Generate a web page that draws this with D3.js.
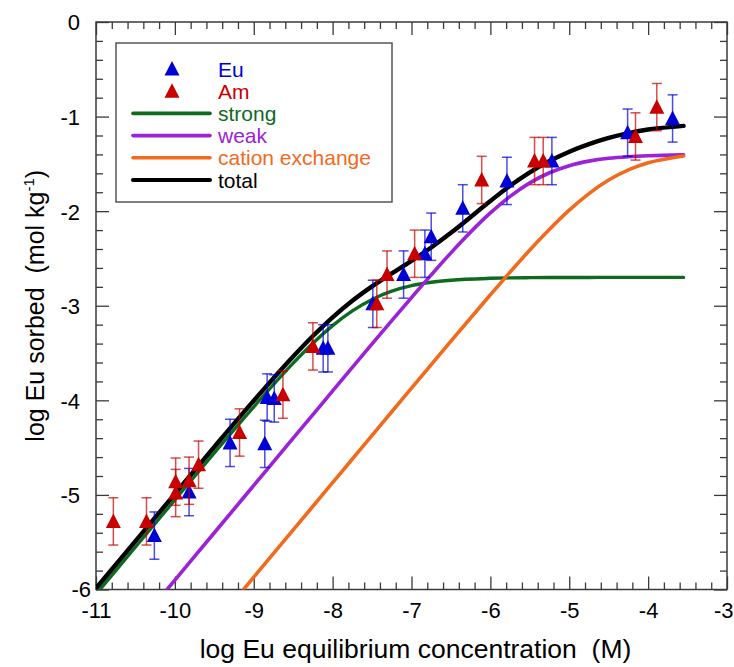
<!DOCTYPE html>
<html>
<head>
<meta charset="utf-8">
<script src="https://cdn.jsdelivr.net/npm/d3@7/dist/d3.min.js"></script>
<style>
  html, body { margin: 0; padding: 0; background: #fff; }
  svg { display: block; font-family: "Liberation Sans", Arial, Helvetica, sans-serif; }
  .title { white-space: pre; }
</style>
</head>
<body>
<svg id="chart" width="734" height="667"></svg>
<script>
// Model curves: log sorbed vs log equilibrium concentration, sampled on a shared grid
const curveX      = [-11, -10.5, -10, -9.5, -9, -8.5, -8.25, -8, -7.75, -7.5, -7.25, -7, -6.75, -6.5, -6, -5.75, -5.5, -5.25, -5, -4.75, -4.5, -4.25, -4, -3.55];
const strongY     = [-6.050, -5.551, -5.052, -4.556, -4.069, -3.607, -3.397, -3.210, -3.054, -2.933, -2.846, -2.788, -2.752, -2.730, -2.710, -2.705, -2.703, -2.702, -2.701, -2.701, -2.700, -2.700, -2.700, -2.700];
const weakY       = [-6.900, -6.400, -5.900, -5.400, -4.900, -4.400, -4.151, -3.901, -3.652, -3.404, -3.158, -2.914, -2.674, -2.441, -2.019, -1.844, -1.701, -1.594, -1.519, -1.471, -1.441, -1.424, -1.414, -1.405];
const exchangeY   = [-7.870, -7.370, -6.870, -6.370, -5.870, -5.370, -5.120, -4.870, -4.620, -4.370, -4.121, -3.871, -3.622, -3.374, -2.884, -2.644, -2.411, -2.191, -1.989, -1.814, -1.671, -1.564, -1.489, -1.416];
const totalY      = [-5.987, -5.488, -4.989, -4.492, -4.003, -3.536, -3.320, -3.122, -2.947, -2.795, -2.658, -2.525, -2.384, -2.229, -1.892, -1.731, -1.589, -1.470, -1.371, -1.291, -1.225, -1.174, -1.137, -1.098];

// Measured sorption data (log units) with a common uncertainty
const euX = [-10.26, -9.82, -9.30, -8.86, -8.83, -8.74, -8.12, -8.06, -7.49, -7.10, -6.83, -6.75, -6.35, -5.79, -5.22, -4.26, -3.69];
const euY = [-5.43, -4.97, -4.45, -4.46, -3.97, -3.98, -3.45, -3.45, -2.98, -2.67, -2.45, -2.27, -1.97, -1.68, -1.47, -1.17, -1.02];
const amX = [-10.78, -10.36, -9.99, -9.99, -9.82, -9.70, -9.18, -8.63, -8.25, -7.44, -7.31, -6.96, -6.11, -5.44, -5.33, -4.16, -3.89];
const amY = [-5.28, -5.28, -4.86, -4.98, -4.85, -4.68, -4.34, -3.94, -3.43, -2.98, -2.67, -2.45, -1.67, -1.47, -1.47, -1.21, -0.90];
const errLog = 0.25;

const xTicks = [-11, -10, -9, -8, -7, -6, -5, -4, -3];
const yTicks = [0, -1, -2, -3, -4, -5, -6];

const svg = d3.select("#chart");
const plot = { left: 96, right: 727, top: 22, bottom: 589.5 };

const x = d3.scaleLinear().domain([-11, -3]).range([plot.left, plot.right]);
const y = d3.scaleLinear().domain([-6, 0]).range([plot.bottom, plot.top]);

const colors = {
  eu: "#0000d4", am: "#c80000",
  strong: "#0d6a1f", weak: "#9b22d6", exchange: "#f26a1b", total: "#000"
};

// Clip for curves
svg.append("defs").append("clipPath").attr("id", "plotClip")
  .append("rect").attr("x", plot.left).attr("y", plot.top)
  .attr("width", plot.right - plot.left).attr("height", plot.bottom - plot.top);

// Axes with inward major + minor ticks on all four sides
const minorX = d3.range(-11, -3.0001, 0.2).filter(v => Math.abs(v - Math.round(v)) > 1e-6);
const minorY = d3.range(-6, 0.0001, 0.2).filter(v => Math.abs(v - Math.round(v)) > 1e-6);
const majorLen = 13, minorLen = 7;
const axisColor = "#3a3a3a";

function addAxis(gen, tx, ty, withLabels) {
  const g = svg.append("g").attr("transform", `translate(${tx},${ty})`).call(gen);
  g.select(".domain").remove();
  g.selectAll(".tick line").attr("stroke", axisColor).attr("stroke-width", 1.3);
  if (!withLabels) g.selectAll(".tick text").remove();
  return g;
}
const fmt = d => (d < 0 ? "-" + Math.abs(d) : String(d));

// bottom
addAxis(d3.axisTop(x).tickValues(minorX).tickSize(minorLen).tickFormat(""), 0, plot.bottom, false);
const gxb = addAxis(d3.axisTop(x).tickValues(xTicks).tickSize(majorLen).tickFormat(fmt), 0, plot.bottom, true);
gxb.selectAll(".tick text").attr("y", 0).attr("dy", 28).attr("font-size", 22).attr("fill", "#000")
  .filter(d => d === -3).attr("text-anchor", "end").attr("x", 6);
// top
addAxis(d3.axisBottom(x).tickValues(minorX).tickSize(minorLen).tickFormat(""), 0, plot.top, false);
addAxis(d3.axisBottom(x).tickValues(xTicks).tickSize(majorLen), 0, plot.top, false);
// left
addAxis(d3.axisRight(y).tickValues(minorY).tickSize(minorLen).tickFormat(""), plot.left, 0, false);
const gyl = addAxis(d3.axisRight(y).tickValues(yTicks).tickSize(majorLen).tickFormat(fmt), plot.left, 0, true);
gyl.selectAll(".tick text").attr("x", -16).attr("text-anchor", "end").attr("dy", "0.36em")
  .attr("font-size", 22).attr("fill", "#000")
  .filter(d => d === -6).attr("x", -5).attr("dy", "0.3em");
// right
addAxis(d3.axisLeft(y).tickValues(minorY).tickSize(minorLen).tickFormat(""), plot.right, 0, false);
addAxis(d3.axisLeft(y).tickValues(yTicks).tickSize(majorLen), plot.right, 0, false);

// frame
svg.append("rect").attr("x", plot.left).attr("y", plot.top)
  .attr("width", plot.right - plot.left).attr("height", plot.bottom - plot.top)
  .attr("fill", "none").attr("stroke", axisColor).attr("stroke-width", 1.5);

// Curves
const line = d3.line().x(d => x(d[0])).y(d => y(d[1])).curve(d3.curveMonotoneX);
const curves = [
  { ys: strongY, color: colors.strong, w: 3.4 },
  { ys: weakY, color: colors.weak, w: 3.6 },
  { ys: exchangeY, color: colors.exchange, w: 3.6 },
  { ys: totalY, color: colors.total, w: 4.4 }
];
const gc = svg.append("g").attr("clip-path", "url(#plotClip)");
curves.forEach(c => {
  gc.append("path").datum(curveX.map((v, i) => [v, c.ys[i]]))
    .attr("d", line).attr("fill", "none").attr("stroke", c.color)
    .attr("stroke-width", c.w).attr("stroke-linecap", "round").attr("stroke-linejoin", "round");
});

// Data points with error bars
function triangle(cx, cy) {
  return `M${cx},${cy - 8}L${cx + 7.5},${cy + 6.5}L${cx - 7.5},${cy + 6.5}Z`;
}
function drawSeries(xs, ys, color) {
  const g = svg.append("g");
  xs.forEach((xv, i) => {
    const px = x(xv), yHi = y(ys[i] + errLog), yLo = y(ys[i] - errLog);
    const eb = g.append("g").attr("stroke", color).attr("stroke-width", 1.5).attr("stroke-opacity", 0.7);
    eb.append("line").attr("x1", px).attr("x2", px).attr("y1", yHi).attr("y2", yLo);
    eb.append("line").attr("x1", px - 5).attr("x2", px + 5).attr("y1", yHi).attr("y2", yHi);
    eb.append("line").attr("x1", px - 5).attr("x2", px + 5).attr("y1", yLo).attr("y2", yLo);
  });
  g.selectAll("path.mk").data(xs.map((v, i) => [v, ys[i]])).join("path")
    .attr("class", "mk").attr("d", d => triangle(x(d[0]), y(d[1]))).attr("fill", color);
}
drawSeries(euX, euY, colors.eu);
drawSeries(amX, amY, colors.am);

// Legend
const lg = svg.append("g");
lg.append("rect").attr("x", 116).attr("y", 43).attr("width", 276).attr("height", 159)
  .attr("fill", "#fff").attr("stroke", "#555").attr("stroke-width", 1.5);
const legendItems = [
  { label: "Eu", color: colors.eu, type: "marker" },
  { label: "Am", color: colors.am, type: "marker" },
  { label: "strong", color: colors.strong, type: "line", w: 3.6 },
  { label: "weak", color: colors.weak, type: "line", w: 3.6 },
  { label: "cation exchange", color: colors.exchange, type: "line", w: 3.6 },
  { label: "total", color: colors.total, type: "line", w: 4 }
];
legendItems.forEach((it, i) => {
  const cy = 69 + i * 22.2;
  if (it.type === "marker") {
    lg.append("path").attr("d", triangle(172, cy)).attr("fill", it.color);
  } else {
    lg.append("line").attr("x1", 133).attr("x2", 210).attr("y1", cy).attr("y2", cy)
      .attr("stroke", it.color).attr("stroke-width", it.w).attr("stroke-linecap", "round");
  }
  lg.append("text").attr("x", 218).attr("y", cy).attr("dy", "0.36em")
    .attr("font-size", 21).attr("fill", it.color).text(it.label);
});

// Axis titles
svg.append("text").attr("class", "title")
  .attr("x", (plot.left + plot.right) / 2 + 4).attr("y", 658).attr("text-anchor", "middle")
  .attr("font-size", 26.5).attr("fill", "#000")
  .text("log Eu equilibrium concentration  (M)");

const yt = svg.append("text").attr("class", "title")
  .attr("transform", `translate(44,${(plot.top + plot.bottom) / 2}) rotate(-90)`)
  .attr("text-anchor", "middle").attr("font-size", 25).attr("fill", "#000");
yt.append("tspan").text("log Eu sorbed  (mol kg");
yt.append("tspan").attr("font-size", 15).attr("dy", -10).text("-1");
yt.append("tspan").attr("dy", 10).text(")");
</script>
</body>
</html>
